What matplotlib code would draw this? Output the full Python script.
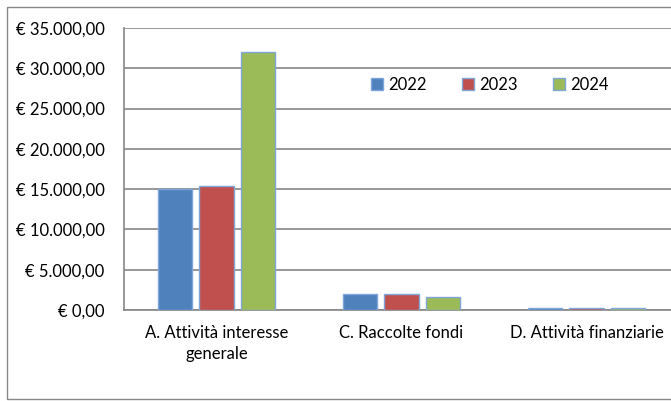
import numpy as np
import matplotlib.pyplot as plt
from matplotlib.patches import Rectangle

categorie = ['A. Attività interesse\ngenerale', 'C. Raccolte fondi', 'D. Attività finanziarie']
anni = ['2022', '2023', '2024']
val_2022 = [15000, 2000, 300]
val_2023 = [15400, 1950, 200]
val_2024 = [32000, 1600, 200]
colori = ['#4F81BD', '#C0504D', '#9BBB59']

plt.rcParams['font.family'] = ['Lato', 'DejaVu Sans']

fig = plt.figure(figsize=(6.71, 4.01), dpi=100)
W, H = 671, 401
ax = fig.add_axes([124 / W, 1 - 310 / H, 555 / W, 282 / H])

# cornice esterna del grafico
fig.patches.append(Rectangle((7 / W, 2 / H), 700 / W, (H - 9) / H, transform=fig.transFigure,
                             fill=False, edgecolor='#888888', linewidth=1))

x = np.arange(len(categorie))
larg = 0.184
passo = 0.222
for i, (serie, c) in enumerate(zip([val_2022, val_2023, val_2024], colori)):
    ax.bar(x + (i - 1) * passo, serie, width=larg, color=c, edgecolor='#7EA6D8',
           linewidth=1, label=anni[i], zorder=3)

ax.set_xlim(-0.5, 2.5)
ax.set_ylim(0, 35000)
ticks = np.arange(0, 35001, 5000)
ax.set_yticks(ticks)
ax.set_yticklabels(['€ ' + f'{t:,.2f}'.replace(',', 'X').replace('.', ',').replace('X', '.') for t in ticks],
                   fontsize=12)
ax.set_xticks(x)
ax.set_xticklabels(categorie, fontsize=12, linespacing=1.4)
ax.tick_params(axis='y', length=0, pad=14)
ax.tick_params(axis='x', length=0, pad=11)
ax.yaxis.grid(True, color='#868686', linewidth=1.2, zorder=0)
for s in ['top', 'right']:
    ax.spines[s].set_visible(False)
for s in ['left', 'bottom']:
    ax.spines[s].set_color('#868686')
    ax.spines[s].set_linewidth(1.2)

ax.legend(loc='center left', bbox_to_anchor=(240 / 555, 1 - 57 / 282), ncol=3, frameon=False, fontsize=12,
          handlelength=0.75, handleheight=0.75, handletextpad=0.3, columnspacing=2.1, borderaxespad=0)

fig.savefig('out.png', dpi=100)
